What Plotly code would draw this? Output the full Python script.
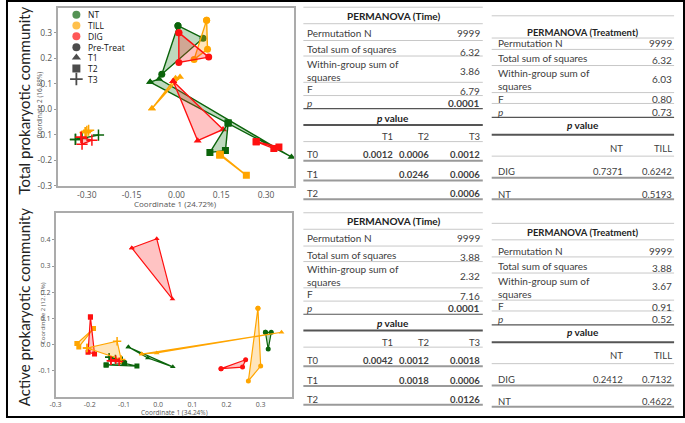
import plotly.graph_objects as go

W, H = 685, 423

# ----------------------------- data -----------------------------
treatments = ["NT", "TILL", "DIG"]
time_points = ["Pre-Treat", "T1", "T2", "T3"]
sample_time = ["Pre-Treat", "Pre-Treat", "Pre-Treat",
               "T1", "T1", "T1",
               "T2", "T2", "T2",
               "T3", "T3", "T3"]

# Total prokaryotic community (PCoA coordinates)
total_nt_x = [0.005, 0.089, -0.049, -0.088, -0.058, 0.385, 0.173, 0.112, 0.164, -0.338, -0.316, -0.261]
total_nt_y = [0.328, 0.279, 0.138, 0.107, 0.119, -0.187, -0.054, -0.169, -0.162, -0.118, -0.114, -0.101]
total_till_x = [0.101, 0.104, 0.059, -0.082, -0.003, 0.012, 0.145, 0.147, 0.234, -0.305, -0.294, -0.300]
total_till_y = [0.350, 0.236, 0.196, 0.003, 0.122, 0.127, -0.179, -0.176, -0.259, -0.091, -0.082, -0.086]
total_dig_x = [0.008, 0.008, 0.108, -0.011, 0.071, 0.156, 0.267, 0.326, 0.343, -0.319, -0.316, -0.283]
total_dig_y = [0.301, 0.184, 0.205, 0.110, -0.123, -0.079, -0.127, -0.154, -0.148, -0.110, -0.137, -0.121]

# Active prokaryotic community (PCoA coordinates)
active_nt_x = [0.314, 0.331, 0.322, -0.087, -0.030, 0.043, -0.152, -0.098, -0.062, -0.143, -0.125, -0.105]
active_nt_y = [0.047, 0.047, -0.017, -0.009, -0.051, -0.085, -0.078, -0.072, -0.082, -0.048, -0.055, -0.062]
active_till_x = [0.292, 0.300, 0.264, -0.048, -0.004, 0.361, -0.237, -0.232, -0.189, -0.208, -0.120, -0.108]
active_till_y = [0.139, -0.082, -0.139, -0.036, -0.032, 0.047, 0.004, -0.009, 0.061, -0.013, 0.013, -0.057]
active_dig_x = [0.184, 0.247, 0.256, -0.077, -0.004, 0.042, -0.198, -0.205, -0.186, -0.138, -0.124, -0.114]
active_dig_y = [-0.092, -0.086, -0.058, 0.369, 0.404, 0.174, 0.105, -0.029, -0.036, -0.062, -0.058, -0.065]

# Axis tick labels
total_xticks = [-0.30, -0.15, 0.00, 0.15, 0.30]
total_xticklabels = ["-0.30", "-0.15", "0.00", "0.15", "0.30"]
total_yticks = [-0.3, -0.2, -0.1, 0.0, 0.1, 0.2, 0.3]
total_yticklabels = ["-0.3", "-0.2", "-0.1", "0.0", "0.1", "0.2", "0.3"]
active_xticks = [-0.3, -0.2, -0.1, 0.0, 0.1, 0.2, 0.3]
active_xticklabels = ["-0.3", "-0.2", "-0.1", "0.0", "0.1", "0.2", "0.3"]
active_yticks = [-0.1, 0.0, 0.1, 0.2, 0.3, 0.4]
active_yticklabels = ["-0.1", "0.0", "0.1", "0.2", "0.3", "0.4"]

# PERMANOVA tables
stat_labels = ["Permutation N", "Total sum of squares", "Within-group sum of<br>squares", "F", "<i>p</i>"]
total_time_stats = ["9999", "6.32", "3.86", "6.79", "0.0001"]
total_treat_stats = ["9999", "6.32", "6.03", "0.80", "0.73"]
active_time_stats = ["9999", "3.88", "2.32", "7.16", "0.0001"]
active_treat_stats = ["9999", "3.88", "3.67", "0.91", "0.52"]
time_cols = ["T1", "T2", "T3"]
time_rows = ["T0", "T1", "T2"]
total_time_p = [["0.0012", "0.0006", "0.0012"], ["", "0.0246", "0.0006"], ["", "", "0.0006"]]
active_time_p = [["0.0042", "0.0012", "0.0018"], ["", "0.0018", "0.0006"], ["", "", "0.0126"]]
treat_cols = ["NT", "TILL"]
treat_rows = ["DIG", "NT"]
total_treat_p = [["0.7371", "0.6242"], ["", "0.5193"]]
active_treat_p = [["0.2412", "0.7132"], ["", "0.4622"]]

# ----------------------------- styles -----------------------------
colors = {"NT": "#0b640b", "TILL": "#FFA500", "DIG": "#FF1010"}
fills = {"NT": "rgba(20,120,20,0.28)", "TILL": "rgba(255,170,30,0.30)", "DIG": "rgba(255,40,40,0.28)"}
symbols = {"Pre-Treat": "circle", "T1": "triangle-up", "T2": "square", "T3": "cross-thin"}
TICK_FONT = "Open Sans"
TAB_FONT = "Lato"
TXT = "#404040"


def px(x):
    return x / W


def py(y):
    return 1 - y / H


fig = go.Figure()

datasets = [
    ("x", "y", {"NT": (total_nt_x, total_nt_y), "TILL": (total_till_x, total_till_y),
                "DIG": (total_dig_x, total_dig_y)}, 7, 1.4),
    ("x2", "y2", {"NT": (active_nt_x, active_nt_y), "TILL": (active_till_x, active_till_y),
                  "DIG": (active_dig_x, active_dig_y)}, 5, 1.2),
]

for xa, ya, data, msize, lw in datasets:
    for t in time_points:
        for tr in treatments:
            xs, ys = data[tr]
            gx = [xv for xv, s in zip(xs, sample_time) if s == t]
            gy = [yv for yv, s in zip(ys, sample_time) if s == t]
            gx = gx + gx[:1]
            gy = gy + gy[:1]
            sym = symbols[t]
            marker = dict(symbol=sym, size=msize if sym != "cross-thin" else msize + 1,
                          color=colors[tr], line=dict(color=colors[tr], width=1.5 if sym == "cross-thin" else 0))
            fig.add_trace(go.Scatter(
                x=gx, y=gy, xaxis=xa, yaxis=ya, mode="lines+markers",
                fill="toself", fillcolor=fills[tr],
                line=dict(color=colors[tr], width=lw),
                marker=marker, showlegend=False, hoverinfo="skip"))

# legend (manual, on a pixel overlay axis)
legend_items = [("NT", "circle", colors["NT"]), ("TILL", "circle", colors["TILL"]),
                ("DIG", "circle", colors["DIG"]), ("Pre-Treat", "circle", "black"),
                ("T1", "triangle-up", "black"), ("T2", "square", "black"), ("T3", "cross-thin", "black")]
leg_y = [15, 25.7, 36.7, 47.7, 58.3, 69.3, 80]
fig.add_trace(go.Scatter(
    x=[71] * len(legend_items), y=leg_y, xaxis="x3", yaxis="y3", mode="markers",
    marker=dict(symbol=[s for _, s, _ in legend_items], size=[8, 8, 8, 8, 8, 8, 9],
                color=[c for _, _, c in legend_items],
                line=dict(color=[c for _, _, c in legend_items], width=[0, 0, 0, 0, 0, 0, 1.8])),
    showlegend=False, hoverinfo="skip"))

annotations = []
shapes = []


def text(x, y, s, anchor="left", size=10, color=TXT, font=TAB_FONT, angle=0):
    annotations.append(dict(x=px(x), y=py(y), xref="paper", yref="paper", text=s, showarrow=False,
                            xanchor=anchor, yanchor="middle", textangle=angle, borderpad=0,
                            align=anchor if anchor != "center" else "center",
                            font=dict(family=font, size=size, color=color)))


def hline(x0, x1, y, color, width):
    shapes.append(dict(type="line", xref="paper", yref="paper", x0=px(x0), x1=px(x1),
                       y0=py(y), y1=py(y), line=dict(color=color, width=width)))


for (lbl, _, _), yy in zip(legend_items, leg_y):
    text(82, yy, lbl, size=8.5, color="#111", font=TICK_FONT)

# axis titles and big labels
text(171.5, 205.5, "Coordinate 1 (24.72%)", anchor="center", size=8, color="#555", font=TICK_FONT)
text(34, 106, "Coordinate 2 (16.88%)", anchor="center", size=6.5, color="#555", font=TICK_FONT, angle=-90)
text(170, 417, "Coordinate 1 (34.24%)", anchor="center", size=6.5, color="#555", font=TICK_FONT)
text(38, 317, "Coordinate 2 (12.11%)", anchor="center", size=6, color="#555", font=TICK_FONT, angle=-90)
text(18, 102, "Total prokaryotic community", anchor="center", size=15, color="#222", font=TAB_FONT, angle=-90)
text(18, 311, "Active prokaryotic community", anchor="center", size=15, color="#222", font=TAB_FONT, angle=-90)

LIGHT = "#c8c8c8"
MID = "#9a9a9a"
DARK = "#555555"


def time_table(dy, stats, pvals):
    x0, x1, lx, rx = 300, 481, 303, 479
    colx = [391.7, 427.5, 479]
    for yy, c, w in [(7.3, LIGHT, 1), (24, LIGHT, 1), (41, LIGHT, 1), (56.7, LIGHT, 1), (83.3, LIGHT, 1),
                     (96.7, LIGHT, 1), (110, DARK, 1.2), (126.5, DARK, 2), (143.3, LIGHT, 1),
                     (162.7, MID, 2), (182.7, MID, 2), (201.7, MID, 2)]:
        hline(x0, x1, yy + dy, c, w)
    text((x0 + x1) / 2, 15.7 + dy, "<b>PERMANOVA (Time)</b>", anchor="center", size=10, color="#222")
    for lab, val, ly, vy in zip(stat_labels, stats, [33.3, 50, 71, 90, 104], [33.3, 52.3, 71.7, 91.7, 104]):
        text(lx, ly + dy, lab)
        text(rx, vy + dy, "<b>%s</b>" % val if lab == "<i>p</i>" else val, anchor="right")
    text((x0 + x1) / 2, 119 + dy, "<b><i>p</i> value</b>", anchor="center", size=10, color="#222")
    for c, cx in zip(time_cols, colx):
        text(cx, 138.5 + dy, c, anchor="right", size=9.5)
    for r, row, ry in zip(time_rows, pvals, [156.5, 177, 196]):
        text(lx, ry + dy, r, size=9.5)
        for v, cx in zip(row, colx):
            if v:
                text(cx, ry + dy, "<b>%s</b>" % v, anchor="right", size=9.5)


def treat_table(dy, top_y, title_y, title_line, stats, pvals):
    x0, x1, lx, rx = 490, 674, 495, 673
    colx = [623.3, 673]
    hline(x0, x1, top_y + dy, LIGHT, 1)
    hline(x0, x1, title_line + dy, LIGHT, 1)
    for yy, c, w in [(50, LIGHT, 1), (66.3, LIGHT, 1), (93.7, LIGHT, 1), (104.7, LIGHT, 1),
                     (118.7, DARK, 1.2), (136.3, DARK, 2), (158, LIGHT, 1), (180, MID, 2), (201.7, MID, 2)]:
        hline(x0, x1, yy + dy, c, w)
    text((x0 + x1) / 2, title_y + dy, "<b>PERMANOVA (Treatment)</b>", anchor="center", size=9.5, color="#222")
    for lab, val, ly, vy in zip(stat_labels, stats, [43.5, 59, 80.7, 99.7, 113], [43.5, 61, 79.7, 100.5, 113]):
        text(lx, ly + dy, lab)
        text(rx, vy + dy, val, anchor="right")
    text((x0 + x1) / 2, 126.3 + dy, "<b><i>p</i> value</b>", anchor="center", size=10, color="#222")
    for c, cx in zip(treat_cols, colx):
        text(cx, 150 + dy, c, anchor="right", size=9.5)
    for r, row, ry in zip(treat_rows, pvals, [173.7, 196.5]):
        text(lx, ry + dy, r, size=9.5)
        for v, cx in zip(row, colx):
            if v:
                text(cx, ry + dy, v, anchor="right", size=9.5)


time_table(0, total_time_stats, total_time_p)
time_table(208, active_time_stats, active_time_p)
treat_table(0, 16, 32.5, 38.5, total_treat_stats, total_treat_p)
treat_table(210, 16, 25.3, 32.7, active_treat_stats, active_treat_p)

# outer frame
shapes.append(dict(type="rect", xref="paper", yref="paper", x0=px(1), x1=px(684), y0=py(1), y1=py(422),
                   line=dict(color="black", width=2)))

axis_common = dict(showgrid=False, zeroline=False, showline=True, mirror=True, linecolor="#ababab",
                   linewidth=1.5, tickcolor="#999")

fig.update_layout(
    width=W, height=H, margin=dict(l=0, r=0, t=0, b=0),
    paper_bgcolor="white", plot_bgcolor="rgba(0,0,0,0)", showlegend=False,
    xaxis=dict(domain=[px(52), px(291)], range=[-0.398, 0.395], tickvals=total_xticks,
               ticktext=total_xticklabels, tickfont=dict(family=TICK_FONT, size=8.5, color="#555"),
               ticks="", anchor="y", **axis_common),
    yaxis=dict(domain=[py(188), py(8)], range=[-0.3, 0.398], tickvals=total_yticks,
               ticktext=total_yticklabels, tickfont=dict(family=TICK_FONT, size=8.5, color="#555"),
               ticks="outside", ticklen=2, anchor="x", **axis_common),
    xaxis2=dict(domain=[px(50), px(289)], range=[-0.3, 0.393], tickvals=active_xticks,
                ticktext=active_xticklabels, tickfont=dict(family=TICK_FONT, size=7, color="#555"),
                ticks="", anchor="y2", **axis_common),
    yaxis2=dict(domain=[py(401.7), py(215.7)], range=[-0.2, 0.502], tickvals=active_yticks,
                ticktext=active_yticklabels, tickfont=dict(family=TICK_FONT, size=7, color="#555"),
                ticks="outside", ticklen=2, anchor="x2", **axis_common),
    xaxis3=dict(domain=[0, 1], range=[0, W], visible=False, anchor="y3"),
    yaxis3=dict(domain=[0, 1], range=[H, 0], visible=False, anchor="x3"),
    annotations=annotations, shapes=shapes,
)

fig.write_html("out.html", config={"displayModeBar": False},
               post_script="document.body.style.margin='0px';")
